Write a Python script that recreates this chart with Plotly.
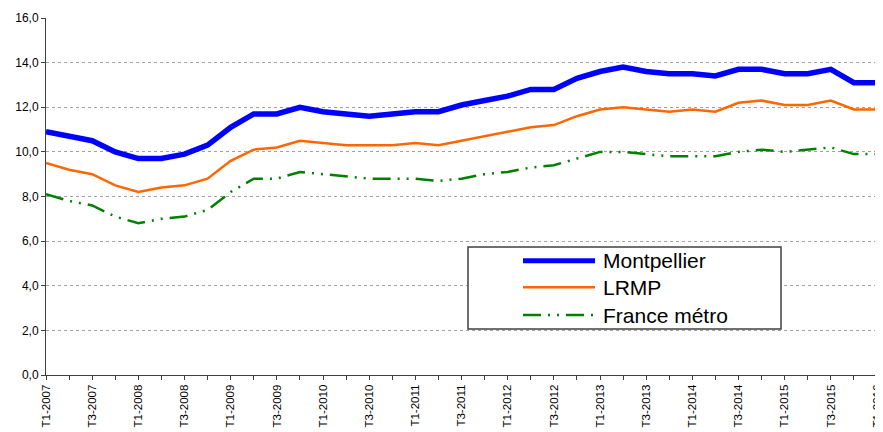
import plotly.graph_objects as go

quarters = [f"T{q}-{y}" for y in range(2007, 2016) for q in (1, 2, 3, 4)] + ["T1-2016"]

montpellier = [10.9, 10.7, 10.5, 10.0, 9.7, 9.7, 9.9, 10.3, 11.1, 11.7, 11.7, 12.0,
               11.8, 11.7, 11.6, 11.7, 11.8, 11.8, 12.1, 12.3, 12.5, 12.8, 12.8, 13.3,
               13.6, 13.8, 13.6, 13.5, 13.5, 13.4, 13.7, 13.7, 13.5, 13.5, 13.7, 13.1, 13.1]
lrmp = [9.5, 9.2, 9.0, 8.5, 8.2, 8.4, 8.5, 8.8, 9.6, 10.1, 10.2, 10.5,
        10.4, 10.3, 10.3, 10.3, 10.4, 10.3, 10.5, 10.7, 10.9, 11.1, 11.2, 11.6,
        11.9, 12.0, 11.9, 11.8, 11.9, 11.8, 12.2, 12.3, 12.1, 12.1, 12.3, 11.9, 11.9]
france = [8.1, 7.8, 7.6, 7.1, 6.8, 7.0, 7.1, 7.4, 8.2, 8.8, 8.8, 9.1,
          9.0, 8.9, 8.8, 8.8, 8.8, 8.7, 8.8, 9.0, 9.1, 9.3, 9.4, 9.7,
          10.0, 10.0, 9.9, 9.8, 9.8, 9.8, 10.0, 10.1, 10.0, 10.1, 10.2, 9.9, 9.9]

series_names = ["Montpellier", "LRMP", "France métro"]
y_tick_vals = [0, 2, 4, 6, 8, 10, 12, 14, 16]
y_tick_text = ["0,0", "2,0", "4,0", "6,0", "8,0", "10,0", "12,0", "14,0", "16,0"]
x_tick_text = [q if q.startswith(("T1", "T3")) else "" for q in quarters]

FONT = "Liberation Sans, Arial, sans-serif"
GREEN_DASH = "18px,7px,2px,7px,2px,7px"
styles = [
    dict(color="#0000FF", width=5.5, dash="solid"),
    dict(color="#FF6600", width=2.5, dash="solid"),
    dict(color="#008000", width=2.5, dash=GREEN_DASH),
]

fig = go.Figure()
for name, vals, st in zip(series_names, [montpellier, lrmp, france], styles):
    fig.add_trace(go.Scatter(x=quarters, y=vals, mode="lines", name=name,
                             line=st, showlegend=False, hoverinfo="skip",
                             cliponaxis=False))

# page body has an 8px default margin: figure is offset by 8px
OFF = 8
W, H = 883 - OFF, 432 - OFF
# plot area in screen pixels: x 46..877, y 18..375
L, R, T, B = 46, 877, 18, 375
def px(x):
    return (x - L) / (R - L)
def py(y):
    return (B - y) / (B - T)

shapes = [dict(type="rect", xref="paper", yref="paper",
               x0=px(468), x1=px(781), y0=py(329), y1=py(247),
               line=dict(color="#404040", width=1.5), fillcolor="white", layer="above")]
annotations = []
legend_y = [260.7, 287.3, 315.0]
leg_widths = [5, 2.5, 2.5]
for name, st, ly, lw in zip(series_names, styles, legend_y, leg_widths):
    shapes.append(dict(type="line", xref="paper", yref="paper",
                       x0=px(523), x1=px(595), y0=py(ly), y1=py(ly),
                       line=dict(color=st["color"], width=lw, dash=st["dash"]), layer="above"))
    annotations.append(dict(xref="paper", yref="paper", x=px(601), y=py(ly),
                            xanchor="left", yanchor="middle", showarrow=False,
                            text=name, font=dict(family=FONT, size=21, color="#000000")))

fig.update_layout(
    width=W, height=H, autosize=False,
    margin=dict(l=L - OFF, r=(W + OFF) - R, t=T - OFF, b=(H + OFF) - B, autoexpand=False),
    paper_bgcolor="white", plot_bgcolor="white",
    font=dict(family=FONT, size=11, color="#000000"),
    shapes=shapes, annotations=annotations,
    showlegend=False,
)
fig.update_xaxes(
    type="category", range=[0, len(quarters) - 1], automargin=False,
    tickmode="array", tickvals=quarters, ticktext=x_tick_text,
    tickangle=-90, ticks="outside", ticklen=4, tickcolor="#404040",
    showline=True, linecolor="#404040", linewidth=1,
    showgrid=False, zeroline=False,
    tickfont=dict(family=FONT, size=11.5, color="#000000"),
)
fig.update_yaxes(
    range=[0, 16], tickmode="array", tickvals=y_tick_vals, ticktext=y_tick_text,
    automargin=False,
    ticks="outside", ticklen=4, tickcolor="#404040",
    showline=True, linecolor="#404040", linewidth=1,
    showgrid=True, gridcolor="#A0A0A0", gridwidth=1, griddash="dot",
    zeroline=False,
    tickfont=dict(family=FONT, size=12, color="#000000"),
)

fig.write_html("out.html")
